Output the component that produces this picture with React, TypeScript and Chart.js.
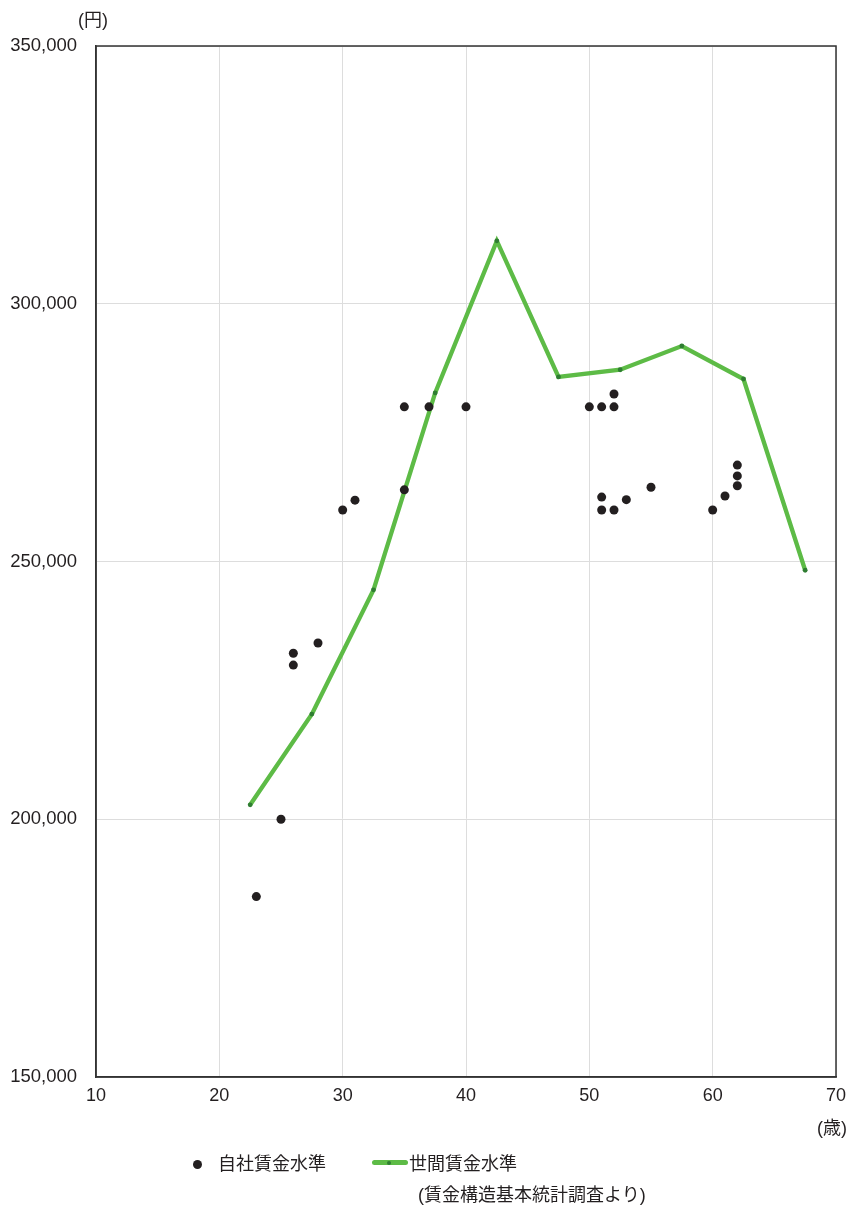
import React, { useEffect, useRef } from "react";
import { Chart, registerables } from "chart.js";

Chart.register(...registerables);

// 自社賃金水準 (scatter)
const companyAges = [23, 25, 26, 26, 28, 30, 31, 35, 35, 37, 40, 50, 51, 52, 52, 51, 51, 52, 53, 55, 60, 61, 62, 62, 62];
const companyWages = [185000, 200000, 232200, 229900, 234200, 260000, 261900, 280000, 263900, 280000, 280000, 280000, 280000, 280000, 282500, 262500, 260000, 260000, 262000, 264400, 260000, 262700, 264700, 266600, 268700];

// 世間賃金水準 (line)
const marketAges = [22.5, 27.5, 32.5, 37.5, 42.5, 47.5, 52.5, 57.5, 62.5, 67.5];
const marketWages = [202800, 220400, 244500, 282700, 312200, 285800, 287200, 291800, 285400, 248300];

const xTicks = [10, 20, 30, 40, 50, 60, 70];
const yTicks = [150000, 200000, 250000, 300000, 350000];

const FONT = '"Liberation Sans", "Noto Sans CJK JP", sans-serif';
const TEXT = "#231f20";
const GREEN = "#5dbb46";
const DARKGREEN = "#2f7d32";
const DOT = "#231f20";

const frame = {
  id: "frame",
  afterDatasetsDraw(chart: any) {
    const { ctx, chartArea } = chart;
    ctx.save();
    ctx.strokeStyle = "#333333";
    ctx.lineWidth = 1.5;
    ctx.strokeRect(chartArea.left, chartArea.top, chartArea.right - chartArea.left, chartArea.bottom - chartArea.top);
    ctx.restore();
  },
};

export default function App() {
  const ref = useRef<HTMLCanvasElement | null>(null);

  useEffect(() => {
    if (!ref.current) return;
    const chart = new Chart(ref.current, {
      type: "scatter",
      data: {
        datasets: [
          {
            type: "scatter",
            label: "自社賃金水準",
            data: companyAges.map((x, i) => ({ x, y: companyWages[i] })),
            backgroundColor: DOT,
            borderColor: DOT,
            pointRadius: 4.5,
            borderWidth: 0,
            order: 0,
          },
          {
            type: "line",
            label: "世間賃金水準",
            data: marketAges.map((x, i) => ({ x, y: marketWages[i] })),
            borderColor: GREEN,
            borderWidth: 4.3,
            pointRadius: 2.4,
            pointBackgroundColor: DARKGREEN,
            pointBorderWidth: 0,
            tension: 0,
            order: 1,
          } as any,
        ],
      },
      options: {
        animation: false,
        responsive: false,
        maintainAspectRatio: false,
        layout: { autoPadding: false, padding: { top: 46, right: 11, left: 0, bottom: 0 } },
        plugins: { legend: { display: false }, tooltip: { enabled: false } },
        scales: {
          x: {
            type: "linear",
            min: 10,
            max: 70,
            afterFit: (s: any) => {
              s.height = 130;
              s.paddingLeft = 0;
              s.paddingRight = 0;
            },
            afterBuildTicks: (s: any) => {
              s.ticks = xTicks.map((v) => ({ value: v }));
            },
            ticks: {
              padding: 8,
              color: TEXT,
              font: { family: FONT, size: 18 },
              maxRotation: 0,
              autoSkip: false,
            },
            grid: { color: "#dddddd", lineWidth: 1, drawTicks: false },
            border: { color: "#333333", width: 1.5 },
          },
          y: {
            type: "linear",
            min: 150000,
            max: 350000,
            afterFit: (s: any) => {
              s.width = 96;
              s.paddingTop = 0;
              s.paddingBottom = 0;
            },
            afterBuildTicks: (s: any) => {
              s.ticks = yTicks.map((v) => ({ value: v }));
            },
            ticks: {
              padding: 19,
              color: TEXT,
              font: { family: FONT, size: 18.5 },
              callback: (v: any) => Number(v).toLocaleString("en-US"),
            },
            grid: { color: "#dddddd", lineWidth: 1, drawTicks: false },
            border: { color: "#333333", width: 1.5 },
          },
        },
      },
      plugins: [frame],
    });
    return () => chart.destroy();
  }, []);

  const txt = (left: number, cy: number, s: string) => (
    <div
      style={{
        position: "absolute",
        left,
        top: cy - 12,
        height: 24,
        lineHeight: "24px",
        fontSize: 18,
        fontFamily: FONT,
        color: TEXT,
        whiteSpace: "nowrap",
      }}
    >
      {s}
    </div>
  );

  return (
    <div style={{ position: "absolute", left: 0, top: 0, width: 847, height: 1207, background: "#fff", overflow: "hidden" }}>
      <canvas ref={ref} width={847} height={1207} style={{ width: 847, height: 1207, display: "block" }} />
      {txt(78, 20, "(円)")}
      {txt(817, 1128, "(歳)")}
      <div style={{ position: "absolute", left: 192.5, top: 1159.5, width: 9, height: 9, borderRadius: "50%", background: DOT }} />
      {txt(218, 1164, "自社賃金水準")}
      <div style={{ position: "absolute", left: 372, top: 1160, width: 36, height: 5, borderRadius: 2.5, background: GREEN }} />
      <div style={{ position: "absolute", left: 387, top: 1160.5, width: 4, height: 4, borderRadius: "50%", background: DARKGREEN }} />
      {txt(409, 1164, "世間賃金水準")}
      {txt(418, 1195, "(賃金構造基本統計調査より)")}
    </div>
  );
}
